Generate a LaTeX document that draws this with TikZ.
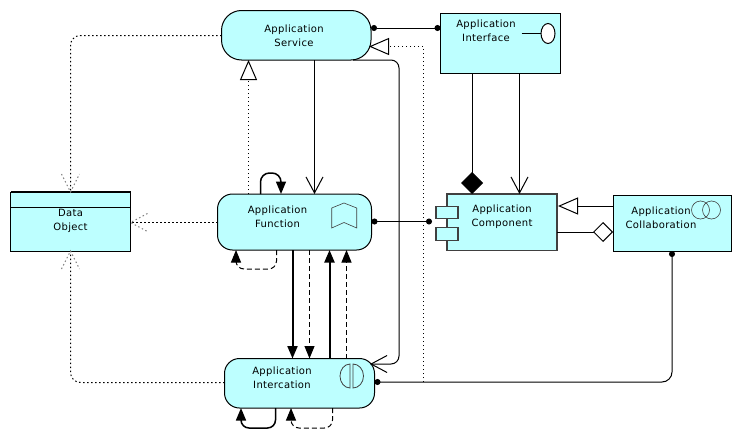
\documentclass[tikz,border=0pt]{standalone}
\usepackage{fontspec}
\setmainfont[LetterSpace=3.5]{DejaVu Sans}
\definecolor{elemCyan}{HTML}{BDFFFF}
\definecolor{iconGrey}{HTML}{404040}
\usetikzlibrary{arrows.meta}
\begin{document}
\begin{tikzpicture}[
        x=1pt, y=-1pt,
        every node/.style={inner sep=0pt, outer sep=0pt},
        elem/.style={draw=black, fill=elemCyan, line width=1pt},
        proc/.style={elem, rounded corners=15pt},
        boxlabel/.style={font=\fontsize{10}{14}\selectfont, align=center},
        tabbox/.style={draw=iconGrey, fill=elemCyan, line width=1.4pt, minimum width=22pt, minimum height=12.5pt},
        iconline/.style={draw=iconGrey, line width=0.6pt},
        link/.style={line width=1pt, line join=miter},
        dotlink/.style={link, dash pattern=on 1.5pt off 2.5pt},
        dashlink/.style={link, dash pattern=on 5pt off 3pt},
        thicklink/.style={line width=2pt},
        barbhead/.style={-{Straight Barb[length=16pt,width=17pt]}},
        solidhead/.style={-{Triangle[length=12.5pt,width=10pt]}},
        hollowhead/.style={-{Triangle[fill=white,length=20pt,width=17pt]}},
        dotends/.style={{Circle[length=6pt]}-{Circle[length=6pt]}},
        dotbarb/.style={draw=gray, line width=1pt, dash pattern=on 1.5pt off 2.5pt}
      ]
        \useasboundingbox (0,0) rectangle (741,439);

        \node[elem, rounded corners=20pt, minimum width=149.5pt, minimum height=49.5pt] (service) at (296.25,35.25) {};
        \node[elem, minimum width=120pt, minimum height=59.5pt] (interface) at (500.5,43.25) {};
        \node[proc, minimum width=154pt, minimum height=56pt] (function) at (294.5,222) {};
        \node[proc, minimum width=150pt, minimum height=49.5pt] (interaction) at (299.5,383.25) {};
        \node[elem, draw=iconGrey, line width=1.4pt, minimum width=110pt, minimum height=56.5pt] (component) at (502,222.25) {};
        \node[elem, minimum width=118pt, minimum height=56pt] (collaboration) at (672,223) {};
        \node[elem, minimum width=120pt, minimum height=59pt] (data) at (70.5,221.5) {};
        \node[tabbox] (tabTop) at (447,212.5) {};
        \node[tabbox] (tabBottom) at (447,234) {};

        \node[boxlabel] (serviceLabel) at (294,36) {Application\\Service};
        \node[boxlabel] (interfaceLabel) at (486,31) {Application\\Interface};
        \node[boxlabel] (functionLabel) at (277.5,217) {Application\\Function};
        \node[boxlabel] (interactionLabel) at (282,378) {Application\\Intercation};
        \node[boxlabel] (componentLabel) at (502,217) {Application\\Component};
        \node[boxlabel] (collaborationLabel) at (661,218) {Application\\Collaboration};
        \node[boxlabel] (dataLabel) at (70.5,221) {Data\\Object};

        \draw[line width=2pt] (data.north west) -- (data.north east);
        \draw[line width=0.8pt] (data.west |- 0,207) -- (data.east |- 0,207);

        \draw[line width=1pt] (521.5,33.5) -- (541,33.5);
        \draw[line width=1pt, fill=white] (548,33.5) ellipse (7pt and 10pt);
        \draw[iconline] (331.7,208) -- (344,203) -- (356.7,208) -- (356.7,228) -- (344,222.5) -- (331.7,228) -- cycle;
        \draw[iconline, line width=0.8pt] (350,364) arc (90:270:10pt and 12pt) -- cycle;
        \draw[iconline, line width=0.8pt] (353,364) arc (90:-90:10.5pt and 12pt) -- cycle;
        \draw[iconline] (700.5,210) circle (9pt);
        \draw[iconline] (711.5,210) circle (9pt);

        \draw[dotlink, rounded corners=10pt] (service.west |- 0,35.5) -- (70.5,35.5) -- (data.north);
        \draw[dotbarb] (data.north) ++(-9,-18) -- ++(9,18) -- ++(9,-18);
        \draw[dotlink] (function.west |- 0,222.5) -- (data.east |- 0,222.5);
        \draw[dotbarb] (data.east |- 0,222.5) ++(17,-9) -- ++(-17,9) -- ++(17,9);
        \draw[dotlink, rounded corners=10pt] (interaction.west |- 0,382.5) -- (70.5,382.5) -- (data.south);
        \draw[dotbarb] (data.south) ++(-9,18) -- ++(9,-18) -- ++(9,18);

        \draw[link, dotends] (service.east |- 0,28) -- (interface.west |- 0,28);
        \draw[link, dotends, shorten >=4pt] (function.east |- 0,221.5) -- (tabTop.west |- 0,221.5);
        \draw[link, dotends, rounded corners=10pt] (interaction.east |- 0,382) -- (672,382) -- (672,0 |- collaboration.south);

        \coordinate (realizeStart) at (423.5,382);
        \draw[dotlink, hollowhead, shorten >=-2pt] (realizeStart) -- (423.5,46.5) -- (service.east |- 0,46.5);
        \draw[dotlink, hollowhead] (248.5,0 |- function.north) -- (248.5,0 |- service.south);
        \draw[link, barbhead] (314.5,0 |- service.south) -- (314.5,0 |- function.north);
        \draw[link, barbhead, rounded corners=8pt, shorten >=-4.5pt] (353,0 |- service.south) -- (399,60) -- (399,364) -- (interaction.east |- 0,364);

        \draw[link, -{Diamond[length=22pt,width=22pt]}] (472,0 |- interface.south) -- (472,0 |- component.north);
        \draw[link, barbhead] (519.5,0 |- interface.south) -- (519.5,0 |- component.north);
        \draw[link, hollowhead, shorten >=1pt] (collaboration.west |- 0,206) -- (component.east |- 0,206);
        \draw[link, -{Diamond[fill=white,length=20pt,width=20pt]}] (component.east |- 0,232) -- (collaboration.west |- 0,232);

        \draw[link, thicklink, solidhead] (292.5,0 |- function.south) -- (292.5,0 |- interaction.north);
        \draw[dashlink, solidhead] (309.5,0 |- function.south) -- (309.5,0 |- interaction.north);
        \draw[link, thicklink, solidhead] (329.5,0 |- interaction.north) -- (329.5,0 |- function.south);
        \draw[dashlink, solidhead] (346.5,0 |- interaction.north) -- (346.5,0 |- function.south);

        \draw[link, line width=1.5pt, solidhead, rounded corners=9pt] (260.5,0 |- function.north) -- (260.5,173) -- (281,173) -- (281,0 |- function.north);
        \draw[dashlink, solidhead, rounded corners=8pt] (276.5,0 |- function.south) -- (276.5,269) -- (236,269) -- (236,0 |- function.south);
        \draw[link, line width=1.5pt, solidhead, rounded corners=8pt] (275.5,0 |- interaction.south) -- (275.5,428) -- (241,428) -- (241,0 |- interaction.south);
        \draw[dashlink, solidhead, rounded corners=8pt] (332.5,0 |- interaction.south) -- (332.5,428) -- (291,428) -- (291,0 |- interaction.south);
      \end{tikzpicture}
\end{document}
